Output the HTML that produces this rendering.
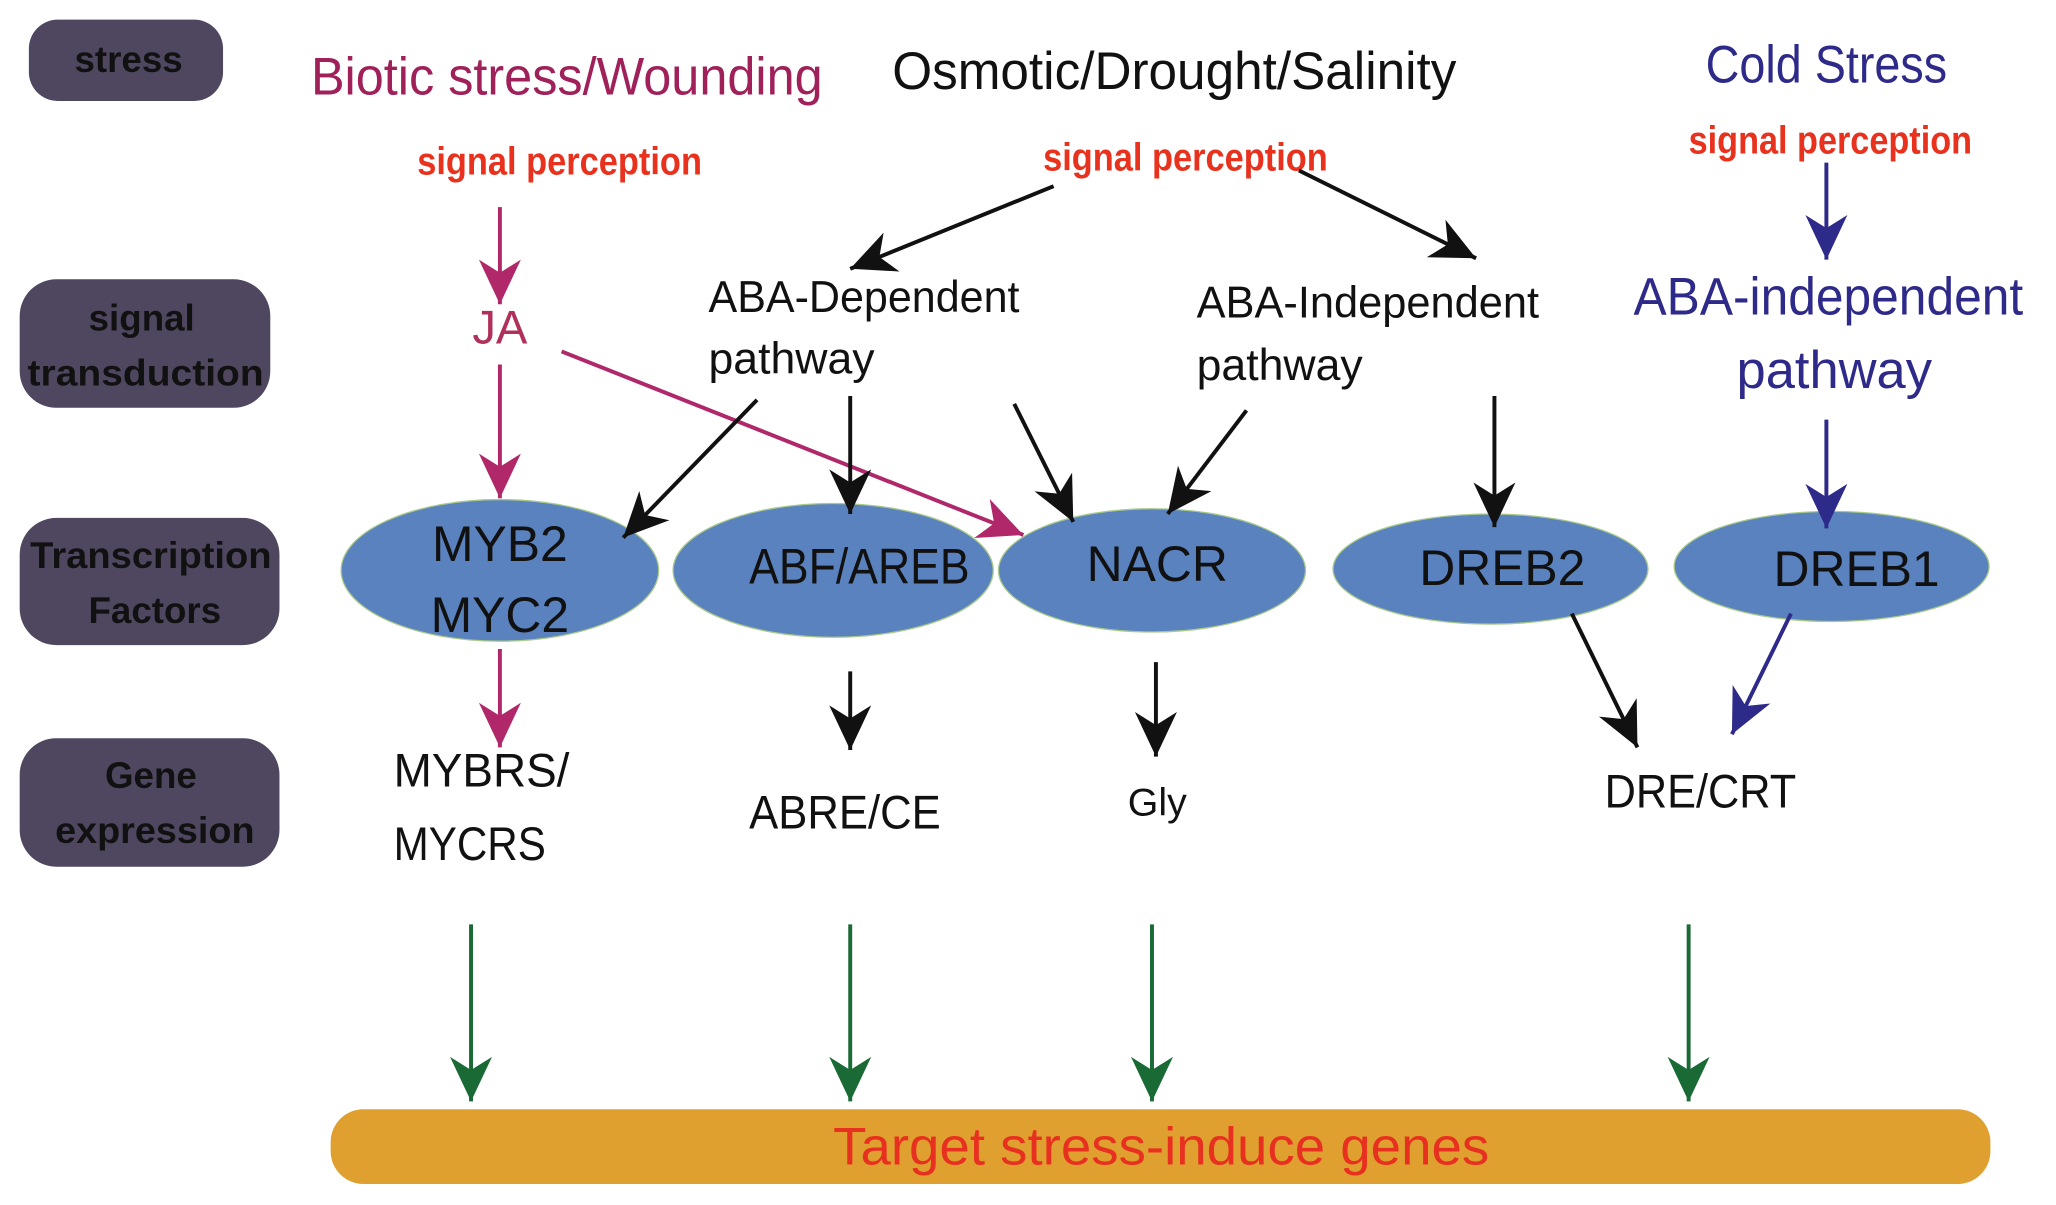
<!DOCTYPE html>
<html><head><meta charset="utf-8"><style>
html,body{margin:0;padding:0;background:#fff;}
svg{display:block;}
text{font-family:"Liberation Sans Narrow","Liberation Sans",sans-serif;}
</style></head><body>
<svg width="2056" height="1205" viewBox="0 0 1567 919" preserveAspectRatio="none" xmlns="http://www.w3.org/2000/svg">
<defs>
<marker id="mk" markerUnits="userSpaceOnUse" markerWidth="40" markerHeight="40" viewBox="-36 -18 40 36" refX="0" refY="0" orient="auto"><path d="M0,0 L-34,-16 L-24,0 L-34,16 Z" fill="#111"/></marker>
<marker id="mm" markerUnits="userSpaceOnUse" markerWidth="40" markerHeight="40" viewBox="-36 -18 40 36" refX="0" refY="0" orient="auto"><path d="M0,0 L-34,-16 L-24,0 L-34,16 Z" fill="#b0286a"/></marker>
<marker id="mb" markerUnits="userSpaceOnUse" markerWidth="40" markerHeight="40" viewBox="-36 -18 40 36" refX="0" refY="0" orient="auto"><path d="M0,0 L-34,-16 L-24,0 L-34,16 Z" fill="#2e2a8a"/></marker>
<marker id="mg" markerUnits="userSpaceOnUse" markerWidth="40" markerHeight="40" viewBox="-36 -18 40 36" refX="0" refY="0" orient="auto"><path d="M0,0 L-34,-16 L-24,0 L-34,16 Z" fill="#1a6a36"/></marker>
</defs>
<g fill="#4f4660">
<rect x="22" y="15" width="148" height="62" rx="22"/>
<rect x="15" y="213" width="191" height="98" rx="28"/>
<rect x="15" y="395" width="198" height="97" rx="28"/>
<rect x="15" y="563" width="198" height="98" rx="28"/>
</g>
<g font-weight="bold" font-size="28" fill="#111" text-anchor="middle">
<text x="98" y="55">stress</text>
<text x="108" y="252">signal</text>
<text x="111" y="294" textLength="180" lengthAdjust="spacingAndGlyphs">transduction</text>
<text x="115" y="433" textLength="184" lengthAdjust="spacingAndGlyphs">Transcription</text>
<text x="118" y="475">Factors</text>
<text x="115" y="601">Gene</text>
<text x="118" y="643" textLength="152" lengthAdjust="spacingAndGlyphs">expression</text>
</g>
<text x="237" y="72" font-size="40" fill="#a0205a" textLength="390" lengthAdjust="spacingAndGlyphs">Biotic stress/Wounding</text>
<text x="680" y="68" font-size="40" fill="#111" textLength="430" lengthAdjust="spacingAndGlyphs">Osmotic/Drought/Salinity</text>
<text x="1300" y="63" font-size="40" fill="#2e2a8a" textLength="184" lengthAdjust="spacingAndGlyphs">Cold Stress</text>
<g font-size="30" font-weight="bold" fill="#e8321e">
<text x="318" y="133" textLength="217" lengthAdjust="spacingAndGlyphs">signal perception</text>
<text x="795" y="130" textLength="217" lengthAdjust="spacingAndGlyphs">signal perception</text>
<text x="1287" y="117" textLength="216" lengthAdjust="spacingAndGlyphs">signal perception</text>
</g>
<text x="381" y="262" font-size="36" fill="#b0305a" text-anchor="middle">JA</text>
<g font-size="34" fill="#111">
<text x="540" y="238" textLength="237" lengthAdjust="spacingAndGlyphs">ABA-Dependent</text>
<text x="540" y="285">pathway</text>
<text x="912" y="242" textLength="261" lengthAdjust="spacingAndGlyphs">ABA-Independent</text>
<text x="912" y="290">pathway</text>
</g>
<text x="1245" y="240" font-size="40" fill="#2e2a8a" textLength="297" lengthAdjust="spacingAndGlyphs">ABA-independent</text>
<text x="1398" y="296" font-size="40" fill="#2e2a8a" text-anchor="middle">pathway</text>
<g fill="#5a82be" stroke="#a9c98a" stroke-width="1">
<ellipse cx="381" cy="435" rx="121" ry="54"/>
<ellipse cx="635" cy="435" rx="122" ry="51"/>
<ellipse cx="878" cy="435" rx="117" ry="47"/>
<ellipse cx="1136" cy="434" rx="120" ry="42"/>
<ellipse cx="1396" cy="432" rx="120" ry="42"/>
</g>
<g font-size="38" fill="#111" text-anchor="middle">
<text x="381" y="428">MYB2</text>
<text x="381" y="482">MYC2</text>
<text x="655" y="445" textLength="168" lengthAdjust="spacingAndGlyphs">ABF/AREB</text>
<text x="882" y="443">NACR</text>
<text x="1145" y="446">DREB2</text>
<text x="1415" y="447">DREB1</text>
</g>
<g font-size="36" fill="#111">
<text x="300" y="600" textLength="134" lengthAdjust="spacingAndGlyphs">MYBRS/</text>
<text x="300" y="656" textLength="116" lengthAdjust="spacingAndGlyphs">MYCRS</text>
<text x="644" y="632" text-anchor="middle" textLength="146" lengthAdjust="spacingAndGlyphs">ABRE/CE</text>
<text x="882" y="622" text-anchor="middle" font-size="30">Gly</text>
<text x="1296" y="616" text-anchor="middle" textLength="146" lengthAdjust="spacingAndGlyphs">DRE/CRT</text>
</g>
<g stroke="#b0286a" stroke-width="3" marker-end="url(#mm)">
<line x1="381" y1="158" x2="381" y2="232"/>
<line x1="381" y1="278" x2="381" y2="380"/>
<line x1="381" y1="495" x2="381" y2="570"/>
<line x1="428" y1="268" x2="780" y2="408"/>
</g>
<g stroke="#111" stroke-width="3" marker-end="url(#mk)">
<line x1="803" y1="142" x2="648" y2="205"/>
<line x1="990" y1="130" x2="1125" y2="197"/>
<line x1="577" y1="305" x2="475" y2="410"/>
<line x1="648" y1="302" x2="648" y2="392"/>
<line x1="773" y1="308" x2="818" y2="398"/>
<line x1="950" y1="313" x2="890" y2="392"/>
<line x1="1139" y1="302" x2="1139" y2="402"/>
<line x1="648" y1="512" x2="648" y2="572"/>
<line x1="881" y1="505" x2="881" y2="577"/>
<line x1="1198" y1="468" x2="1248" y2="570"/>
</g>
<g stroke="#2e2a8a" stroke-width="3" marker-end="url(#mb)">
<line x1="1392" y1="124" x2="1392" y2="198"/>
<line x1="1392" y1="320" x2="1392" y2="403"/>
<line x1="1365" y1="468" x2="1320" y2="560"/>
</g>
<g stroke="#1a6a36" stroke-width="3" marker-end="url(#mg)">
<line x1="359" y1="705" x2="359" y2="840"/>
<line x1="648" y1="705" x2="648" y2="840"/>
<line x1="878" y1="705" x2="878" y2="840"/>
<line x1="1287" y1="705" x2="1287" y2="840"/>
</g>
<rect x="252" y="846" width="1265" height="57" rx="25" fill="#e0a030"/>
<text x="885" y="888" font-size="40" fill="#e83020" text-anchor="middle" textLength="500" lengthAdjust="spacingAndGlyphs">Target stress-induce genes</text>
</svg>
</body></html>
